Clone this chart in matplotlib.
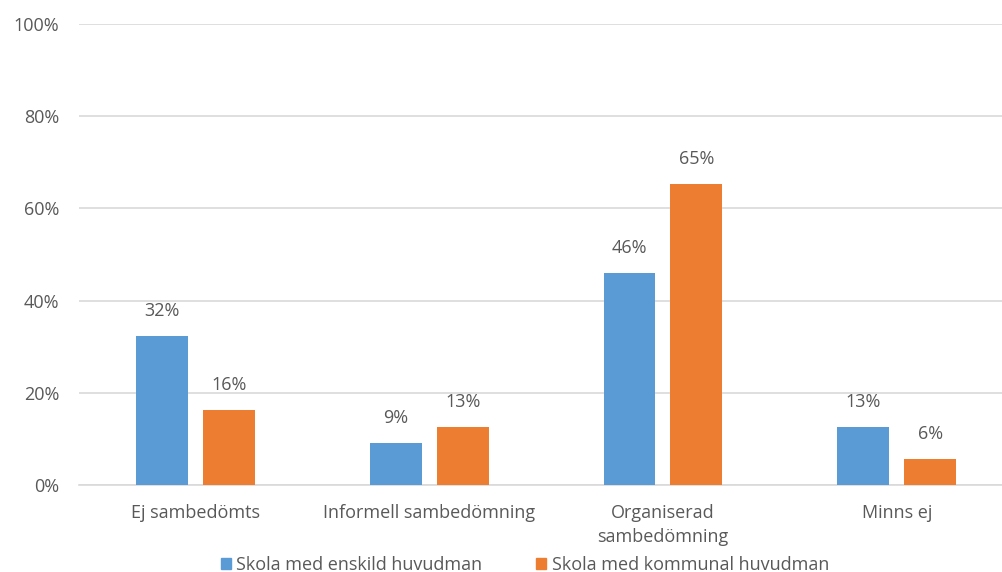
import matplotlib
matplotlib.use("Agg")
import matplotlib.pyplot as plt
import numpy as np
from matplotlib.patches import Patch

categories = ["Ej sambedömts", "Informell sambedömning", "Organiserad\nsambedömning", "Minns ej"]
series_names = ["Skola med enskild huvudman", "Skola med kommunal huvudman"]
enskild = [32.3, 9.1, 45.9, 12.6]
kommunal = [16.3, 12.6, 65.3, 5.7]
enskild_labels = ["32%", "9%", "46%", "13%"]
kommunal_labels = ["16%", "13%", "65%", "6%"]
yticks = [0, 20, 40, 60, 80, 100]
ytick_labels = ["0%", "20%", "40%", "60%", "80%", "100%"]

blue = "#5B9BD5"
orange = "#ED7D31"
txt = "#595959"

plt.rcParams['font.family'] = ['Open Sans', 'DejaVu Sans']
fs = 13

fig = plt.figure(figsize=(10.03, 5.72), dpi=100)
ax = fig.add_axes([78.6/1003, 1-485/572, 935/1003, (485-24)/572])

x = np.arange(len(categories))
w = 0.222
gap = 0.064
off = (w + gap) / 2
b1 = ax.bar(x - off, enskild, w, color=blue, zorder=3)
b2 = ax.bar(x + off, kommunal, w, color=orange, zorder=3)

for rect, lab in zip(b1, enskild_labels):
    ax.text(rect.get_x() + rect.get_width()/2, rect.get_height() + 3.5, lab,
            ha='center', va='bottom', fontsize=fs, color=txt)
for rect, lab in zip(b2, kommunal_labels):
    ax.text(rect.get_x() + rect.get_width()/2, rect.get_height() + 3.5, lab,
            ha='center', va='bottom', fontsize=fs, color=txt)

ax.set_xlim(-0.5, len(categories) - 0.5)
ax.set_ylim(0, 100)
ax.set_yticks(yticks)
ax.set_yticklabels(ytick_labels, fontsize=fs, color=txt)
ax.set_xticks(x)
ax.set_xticklabels(categories, fontsize=fs, color=txt, linespacing=1.45)
ax.tick_params(axis='both', length=0)
ax.tick_params(axis='y', pad=14)
ax.tick_params(axis='x', pad=13.5)
ax.grid(axis='y', color='#D9D9D9', linewidth=1.2, zorder=0)
for s in ['top', 'right', 'left']:
    ax.spines[s].set_visible(False)
ax.spines['bottom'].set_color('#D9D9D9')
ax.spines['bottom'].set_linewidth(1.2)

handles = [Patch(color=blue), Patch(color=orange)]
fig.legend(handles, series_names, loc='center', bbox_to_anchor=(525/1003, 1-565/572),
           ncol=2, frameon=False, fontsize=fs, handlelength=0.55, handleheight=0.55,
           handletextpad=0.3, columnspacing=3.0, labelcolor=txt, borderpad=0)

fig.savefig("out.png", dpi=100)
